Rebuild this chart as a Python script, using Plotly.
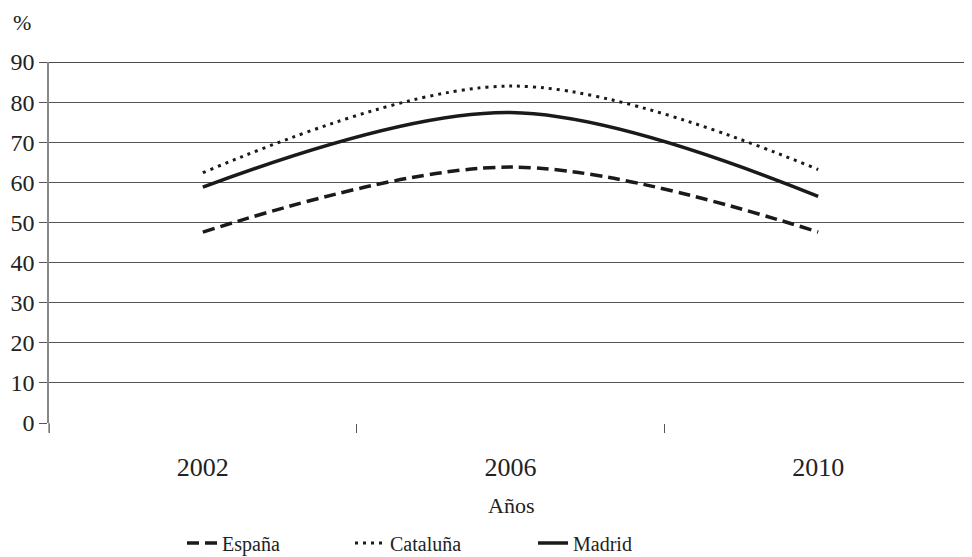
import plotly.graph_objects as go

years = ["2002", "2006", "2010"]
espana = [47.6, 63.8, 47.6]
cataluna = [62.4, 84.0, 63.2]
madrid = [58.8, 77.4, 56.5]
y_ticks = [0, 10, 20, 30, 40, 50, 60, 70, 80, 90]

FONT = "Liberation Serif"
TXT = "#222"
LEG_Y = 0.0255

fig = go.Figure()
fig.add_trace(go.Scatter(x=years, y=espana, name="España", mode="lines", legend="legend",
                         line=dict(color="#1a1a1a", width=3.5, dash="12px,6px", shape="spline")))
fig.add_trace(go.Scatter(x=years, y=cataluna, name="Cataluña", mode="lines", legend="legend2",
                         line=dict(color="#1a1a1a", width=3, dash="3px,5px", shape="spline")))
fig.add_trace(go.Scatter(x=years, y=madrid, name="Madrid", mode="lines", legend="legend3",
                         line=dict(color="#1a1a1a", width=3.5, shape="spline")))

def leg(x):
    return dict(orientation="h", x=x, xanchor="left", y=LEG_Y, yanchor="middle",
                xref="paper", yref="container", bgcolor="rgba(0,0,0,0)",
                font=dict(family=FONT, size=20, color=TXT))

# page body has an 8px margin: figure is 8px smaller and margins shifted
fig.update_layout(
    width=964, height=549,
    margin=dict(l=41, r=0, t=54, b=134),
    paper_bgcolor="white", plot_bgcolor="white",
    font=dict(family=FONT, size=20, color=TXT),
    showlegend=True,
    legend=leg(0.1441),
    legend2=leg(0.3261),
    legend3=leg(0.5244),
    xaxis=dict(type="category", range=[-0.5, 2.5], tickson="boundaries",
               ticks="outside", ticklen=9, tickcolor="#555", showline=False,
               showgrid=False, zeroline=False, automargin=False,
               ticklabelstandoff=26,
               tickfont=dict(family=FONT, size=26, color=TXT)),
    yaxis=dict(range=[0, 90], tickvals=y_ticks, ticks="outside", ticklen=8,
               tickcolor="#555", showline=True, linecolor="#888", linewidth=1.5,
               showgrid=True, gridcolor="#555", gridwidth=1, zeroline=False,
               automargin=False, ticklabelstandoff=0,
               tickfont=dict(family=FONT, size=24, color=TXT)),
    annotations=[
        dict(text="%", xref="paper", yref="paper", x=0, y=1,
             xanchor="center", yanchor="middle", xshift=-27, yshift=40,
             showarrow=False, font=dict(family=FONT, size=22, color=TXT)),
        dict(text="Años", xref="paper", yref="paper", x=0.5, y=0,
             xanchor="center", yanchor="middle", yshift=-82,
             showarrow=False, font=dict(family=FONT, size=22, color=TXT)),
    ],
)
fig.add_shape(type="line", xref="paper", yref="y", x0=0, x1=1, y0=90, y1=90,
              line=dict(color="#111", width=1.5))
fig.add_shape(type="line", xref="paper", yref="paper", x0=0, x1=0, y0=0, y1=-0.027,
              line=dict(color="#888", width=1.5))

fig.write_html("out.html")
